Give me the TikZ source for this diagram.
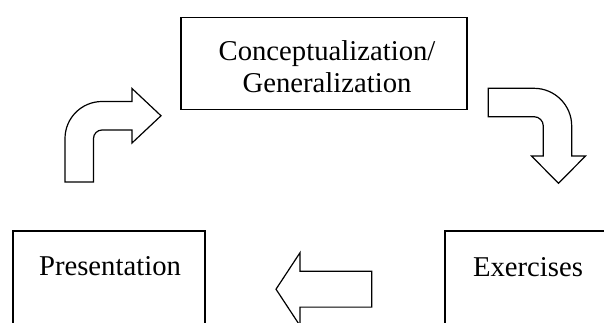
\documentclass[tikz,border=0pt]{standalone}
\usepackage{fontspec}
\setmainfont{Liberation Serif}
\begin{document}
\begin{tikzpicture}[x=1pt,y=-1pt,
  box/.style={draw, line width=1.6pt, inner sep=0pt},
  lbl/.style={font=\fontsize{28.7}{31.6}\selectfont, inner sep=0pt},
  blockarrow/.style={draw, line width=1.2pt, fill=white}]
\clip (0,0) rectangle (604,322);
\fill[white] (0,0) rectangle (604,322);

% boxes
\node[box, minimum width=286pt, minimum height=92pt] (concept) at (324,63.3) {};
\node[box, anchor=north west, minimum width=192pt, minimum height=120pt] (pres) at (12,230.3) {};
\node[box, anchor=north west, minimum width=192pt, minimum height=120pt] (exer) at (444,230.3) {};

% texts
\node[lbl, align=center] (concepttext) at (327,66.5) {Conceptualization/\\Generalization};
\node[lbl, anchor=base] (prestext) at (110,275.3) {Presentation};
\node[lbl, anchor=base] (exertext) at (528,276.7) {Exercises};

% bent arrow: presentation -> conceptualization
\draw[blockarrow] (65,182) -- (65,138.5) arc[start angle=180, end angle=270, radius=37]
  -- (132,101.5) -- (132,88.5) -- (161,115.75) -- (132,143) -- (132,130) -- (102,130)
  arc[start angle=270, end angle=180, radius=8.5] -- (93.5,182) -- cycle;

% bent arrow: conceptualization -> exercises
\draw[blockarrow] (488.3,88.3) -- (534,88.3) arc[start angle=270, end angle=360, radius=37.7]
  -- (571.7,156) -- (585.5,156) -- (558.5,183.3) -- (531.5,156) -- (543.3,156) -- (543.3,126)
  arc[start angle=0, end angle=-90, radius=9.3] -- (488.3,116.7) -- cycle;

% straight arrow: exercises -> presentation
\draw[blockarrow] (371.7,271.3) -- (300,271.3) -- (300,252.7) -- (276,289.2) -- (300,325.7)
  -- (300,307.1) -- (371.7,307.1) -- cycle;
\end{tikzpicture}
\end{document}
